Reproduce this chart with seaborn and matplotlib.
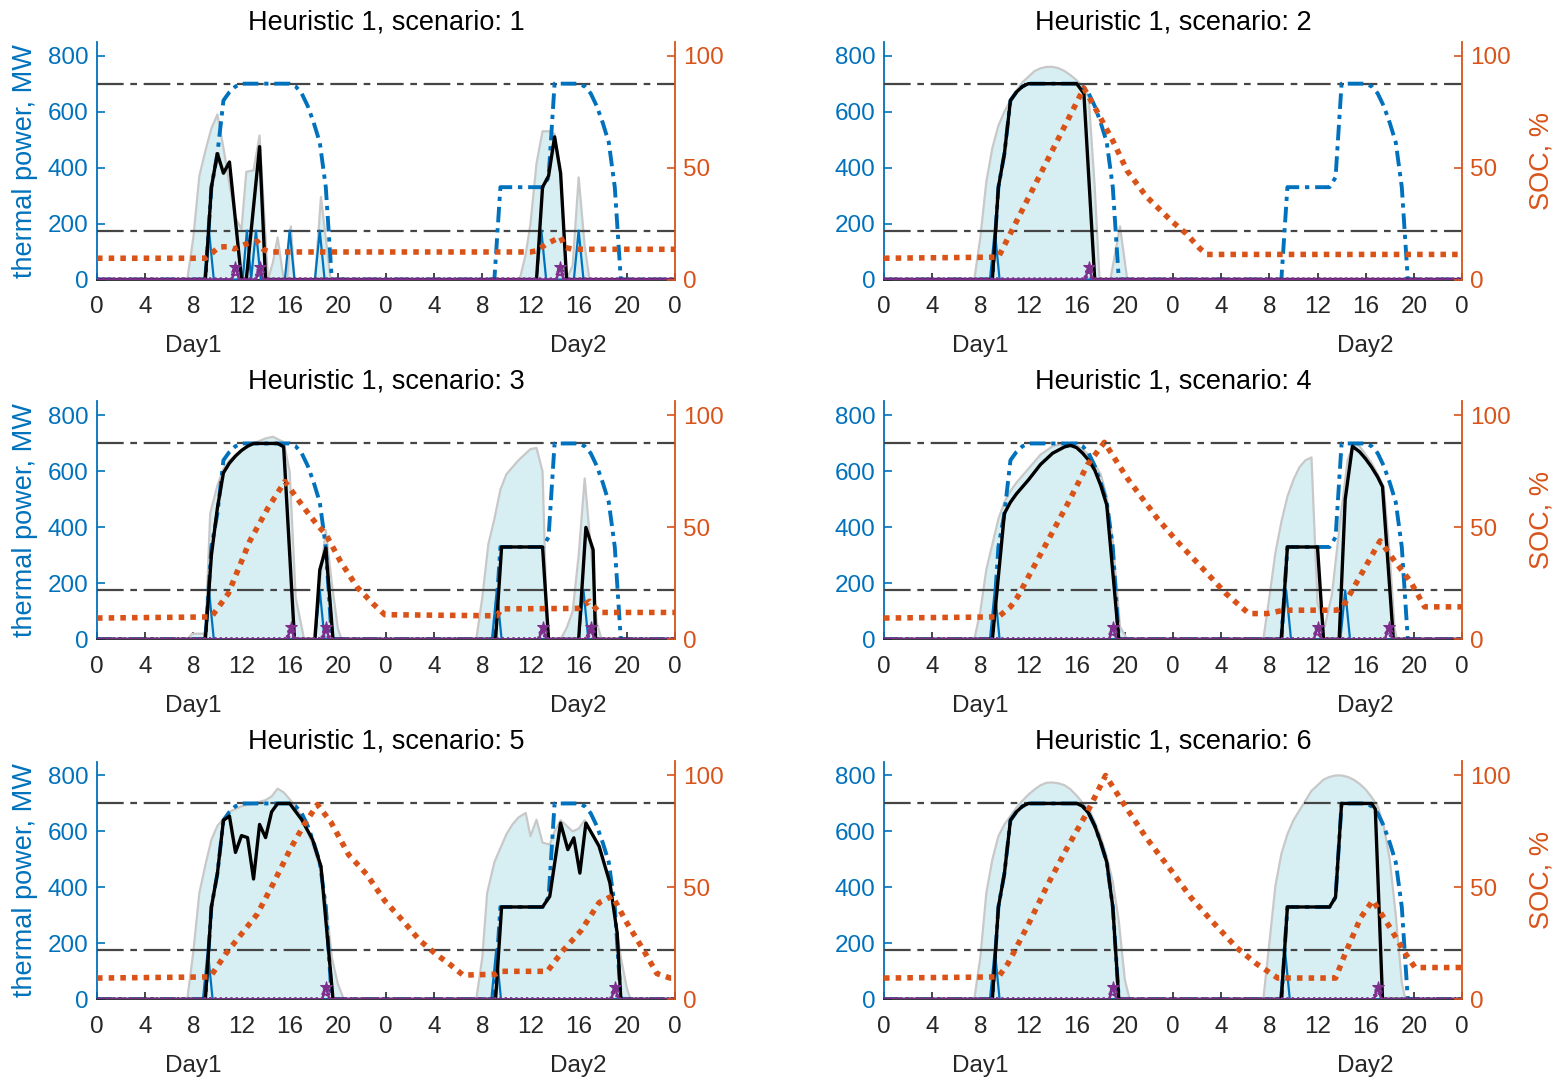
import matplotlib
matplotlib.use("Agg")
import matplotlib.pyplot as plt
import numpy as np
import seaborn as sns

# ----------------------------------------------------------------------------
# Colours / constants
# ----------------------------------------------------------------------------
BLUE = "#0072BD"
ORANGE = "#D95319"
PURPLE = "#7E2F8E"
FILL = "#d7eff2"
EDGE = "#c8c8c8"
REF = "#454545"
TXT = "#262626"

SCENARIOS = [1, 2, 3, 4, 5, 6]
HOUR_TICKS = [0, 4, 8, 12, 16, 20, 24, 28, 32, 36, 40, 44, 48]
HOUR_LABELS = ["0", "4", "8", "12", "16", "20", "0", "4", "8", "12", "16", "20", "0"]
DAY_LABELS = ["Day1", "Day2"]
DAY_POS = [8, 40]
P_MAX = 700
P_MIN = 175

# ----------------------------------------------------------------------------
# Data (hours, MW / %)
# ----------------------------------------------------------------------------
# thermal capacity envelope (same in every scenario)
DASH_T = [0, 9, 9.5, 10, 10.5, 11, 11.5, 12, 16, 16.5, 17, 17.5, 18, 18.5, 19, 19.5,
          33, 33.5, 37, 37.5, 38, 40, 40.5, 41, 41.5, 42, 42.5, 43, 43.5, 48]
DASH_V = [0, 0, 330, 450, 640, 670, 690, 700, 700, 690, 665, 620, 560, 490, 330, 0,
          0, 330, 330, 365, 700, 700, 690, 665, 620, 560, 490, 330, 0, 0]

# scenario 1
GRAY_T1 = [0, 7.5, 8, 8.5, 9, 9.5, 10, 10.5, 11, 11.5, 12, 12.4, 13, 13.5, 14.2, 14.6, 15, 15.5,
           15.8, 16.1, 16.4, 18.1, 18.6, 19.4, 35.1, 35.6, 36, 36.5, 37, 37.5, 38, 38.5, 39,
           39.5, 40, 40.5, 40.9, 48]
GRAY_V1 = [0, 0, 150, 370, 460, 540, 590, 470, 340, 220, 180, 385, 390, 515, 0, 60, 150, 0,
           0, 190, 0, 0, 295, 0, 0, 90, 200, 415, 530, 530, 520, 380, 0,
           50, 365, 120, 0, 0]
BLACK_T1 = [0, 9, 9.5, 10, 10.5, 11, 12, 12.4, 13, 13.5, 14, 36.5, 37, 37.5, 38, 38.5, 39, 48]
BLACK_V1 = [0, 0, 330, 450, 380, 420, 0, 0, 260, 475, 0, 0, 330, 370, 510, 380, 0, 0]
BLUE_T1 = [0, 8.9, 9.3, 9.7, 12.1, 12.45, 12.8, 13.2, 13.6, 15.6, 16, 16.4, 18.1, 18.5, 18.9,
           36.5, 36.9, 37.3, 39.6, 40, 40.4, 48]
BLUE_V1 = [0, 0, 175, 0, 0, 175, 0, 175, 0, 0, 175, 0, 0, 175, 0,
           0, 175, 0, 0, 175, 0, 0]
PURPLE_T1 = [0, 11.2, 11.5, 11.8, 13.2, 13.5, 13.8, 38.15, 38.45, 38.75, 48]
PURPLE_V1 = [0, 0, 45, 0, 0, 45, 0, 0, 45, 0, 0]
SOC_T1 = [0, 9, 9.6, 10.1, 10.9, 11.4, 12.4, 13.3, 13.85, 14.3, 36, 36.5, 37.3, 38.5, 38.9, 39.5, 48]
SOC_V1 = [9.5, 9.5, 12, 14.5, 14.7, 13.7, 15.9, 17.1, 13.3, 12.3, 12.3, 12.8, 15.8, 19, 14.3, 13.5, 13.5]

# scenario 2
GRAY_T2 = [0, 7.5, 8, 8.5, 9, 9.5, 10, 10.5, 11, 11.5, 12, 12.5, 13, 13.5, 14, 14.5, 15, 15.5,
           16, 16.5, 17, 17.5, 17.9, 18.8, 19.6, 20.2, 48]
GRAY_V2 = [0, 0, 150, 350, 470, 550, 600, 640, 675, 705, 725, 745, 755, 760, 760, 755, 745, 730,
           712, 690, 650, 330, 0, 0, 190, 0, 0]
BLACK_T2 = [0, 9, 9.5, 10, 10.5, 11, 11.5, 12, 16, 16.6, 17.5, 48]
BLACK_V2 = [0, 0, 330, 450, 640, 670, 690, 700, 700, 665, 0, 0]
BLUE_T2 = [0, 8.8, 9.2, 9.6, 48]
BLUE_V2 = [0, 0, 175, 0, 0]
PURPLE_T2 = [0, 16.7, 17, 17.3, 48]
PURPLE_V2 = [0, 0, 45, 0, 0]
SOC_T2 = [0, 9.5, 16.6, 17.7, 19, 20.2, 21.8, 23.9, 25.1, 26.2, 26.8, 48]
SOC_V2 = [9.5, 10, 85.5, 75, 62, 48.5, 37, 26, 20.5, 14, 11.2, 11.2]

# scenario 3
GRAY_T3 = [0, 7.5, 7.9, 9, 9.4, 10, 10.5, 11, 12, 13, 14, 14.6, 15.5, 16, 16.5, 17.2, 18, 18.5,
           19, 19.5, 20, 20.3, 31.5, 32, 32.5, 33, 33.5, 34, 34.5, 35, 35.5, 36, 36.5, 37, 37.4,
           38.5, 39, 39.5, 40, 40.5, 41, 41.5, 41.9, 48]
GRAY_V3 = [0, 0, 20, 20, 450, 550, 610, 640, 675, 700, 718, 724, 705, 600, 150, 0, 0, 200,
           390, 200, 40, 0, 0, 150, 340, 430, 535, 590, 615, 640, 660, 680, 684, 600, 0,
           0, 40, 100, 300, 575, 330, 60, 0, 0]
BLACK_T3 = [0, 9, 9.5, 10, 10.5, 11, 11.5, 12, 12.5, 13, 15, 15.5, 16.4, 18.1, 18.5, 19, 19.6,
            33.1, 33.6, 37, 37.5, 40, 40.6, 41.2, 41.4, 48]
BLACK_V3 = [0, 0, 300, 470, 595, 630, 655, 675, 690, 700, 700, 688, 0, 0, 248, 326, 0,
            0, 330, 330, 0, 0, 400, 320, 0, 0]
BLUE_T3 = [0, 8.9, 9.3, 9.7, 18.1, 18.5, 18.9, 32.8, 33.2, 33.6, 40, 40.4, 40.8, 48]
BLUE_V3 = [0, 0, 175, 0, 0, 175, 0, 0, 175, 0, 0, 175, 0, 0]
PURPLE_T3 = [0, 15.8, 16.1, 16.4, 18.7, 19, 19.3, 36.7, 37, 37.3, 40.7, 41, 41.3, 48]
PURPLE_V3 = [0, 0, 45, 0, 0, 45, 0, 0, 45, 0, 0, 45, 0, 0]
SOC_T3 = [0, 9.5, 10.9, 12.7, 14.2, 15.6, 17.2, 18.3, 19, 20.2, 21.6, 22.9, 23.9, 33.2, 33.6,
          40, 40.9, 41.7, 48]
SOC_V3 = [9.5, 10, 20.4, 44, 58.7, 70.5, 58.7, 51, 47, 35, 23.3, 16, 11, 10.5, 13.6,
          13.8, 17, 12, 12]

# scenario 4
GRAY_T4 = [0, 7.5, 8, 8.5, 9, 9.5, 10, 10.5, 11, 12, 13, 14, 15, 16, 17, 18, 18.5, 19, 19.6,
           20.2, 31.5, 32, 32.5, 33, 33.5, 34, 34.5, 35, 35.5, 36, 36.6, 37.2, 37.9, 38.5, 39,
           39.5, 40, 40.5, 41, 41.5, 42, 42.4, 42.6, 48]
GRAY_V4 = [0, 0, 100, 250, 340, 430, 490, 530, 560, 610, 660, 690, 700, 695, 660, 590, 510, 350, 45,
           0, 0, 150, 308, 420, 510, 570, 615, 640, 650, 130, 45, 160, 430, 640, 700,
           690, 660, 630, 590, 545, 300, 40, 0, 0]
BLACK_T4 = [0, 9, 10, 10.5, 11, 12, 13, 14, 15, 15.5, 16, 16.5, 17, 17.5, 18, 18.5, 19.5,
            33, 33.5, 36, 36.5, 37.8, 38.3, 38.9, 39.5, 40, 40.5, 41, 41.4, 42.3, 48]
BLACK_V4 = [0, 0, 450, 490, 520, 570, 625, 665, 688, 693, 685, 665, 640, 605, 550, 480, 0,
            0, 330, 330, 0, 0, 500, 690, 670, 645, 615, 580, 545, 0, 0]
BLUE_T4 = [0, 8.8, 9.2, 9.6, 33, 33.4, 33.8, 37.9, 38.3, 38.7, 48]
BLUE_V4 = [0, 0, 175, 0, 0, 175, 0, 0, 175, 0, 0]
PURPLE_T4 = [0, 18.7, 19, 19.3, 35.7, 36, 36.3, 41.6, 41.9, 42.2, 48]
PURPLE_V4 = [0, 0, 45, 0, 0, 45, 0, 0, 45, 0, 0]
SOC_T4 = [0, 9.5, 10.5, 11.1, 13.6, 15.2, 16.9, 18.3, 20.2, 22.7, 24.3, 26.4, 28.4, 30.3, 31.8,
          33.2, 37.6, 38.1, 41.2, 42.4, 43.7, 44.9, 48]
SOC_V4 = [9.5, 10, 14.5, 19, 44, 60, 78, 88, 72, 54, 44, 32, 20.4, 11.5, 11.5,
          13, 13, 14.5, 44, 35, 26, 14.5, 14.5]

# scenario 5
GRAY_T5 = [0, 7.5, 8, 8.5, 9, 9.5, 10, 10.5, 11, 11.5, 12, 13, 14, 14.5, 15, 15.5, 16, 16.5, 17,
           17.5, 18, 18.5, 19, 19.5, 20, 20.5, 31.5, 32, 32.4, 33, 33.5, 34, 34.5, 35, 35.6, 36,
           36.5, 37, 37.6, 38, 38.5, 39, 39.5, 40, 40.5, 41, 41.5, 42, 42.5, 43, 43.5, 44, 44.3, 48]
GRAY_V5 = [0, 0, 170, 380, 480, 570, 620, 645, 670, 680, 690, 700, 712, 725, 753, 740, 715, 690, 650,
           600, 540, 470, 350, 150, 55, 0, 0, 150, 380, 490, 540, 590, 625, 650, 666, 583,
           642, 560, 553, 600, 640, 620, 600, 610, 640, 600, 560, 500, 430, 300, 150, 40, 0, 0]
BLACK_T5 = [0, 9, 9.5, 10, 10.5, 11, 11.5, 12, 12.5, 13, 13.5, 14, 14.5, 15, 16, 17, 17.9, 18.6,
            19, 19.6, 33.1, 33.6, 37, 37.6, 38.5, 39.1, 39.6, 40.1, 40.6, 41.7, 42.6, 43.2, 43.5, 48]
BLACK_V5 = [0, 0, 330, 450, 640, 655, 525, 585, 578, 430, 625, 578, 670, 700, 700, 642, 571, 475,
            284, 0, 0, 330, 330, 368, 630, 535, 577, 451, 630, 547, 415, 236, 0, 0]
BLUE_T5 = [0, 8.8, 9.2, 9.6, 32.75, 33.15, 33.55, 48]
BLUE_V5 = [0, 0, 175, 0, 0, 175, 0, 0]
PURPLE_T5 = [0, 18.7, 19, 19.3, 42.7, 43, 43.3, 48]
PURPLE_V5 = [0, 0, 45, 0, 0, 45, 0, 0]
SOC_T5 = [0, 9.4, 10.7, 12, 13.3, 14.6, 16.1, 17.2, 18.3, 19.4, 20.9, 22.4, 23.9, 25.4, 26.8,
          28.1, 29.4, 30.4, 33.1, 33.5, 37.4, 38.7, 40.2, 41.7, 42.8, 43.9, 45.4, 46.5, 47.6, 48]
SOC_V5 = [9.5, 10, 20.4, 29.2, 38, 51.3, 67.6, 78, 87, 79.4, 64.6, 55.8, 44, 35.1, 26.3,
          20.4, 15.2, 10.8, 11.2, 12.5, 12.5, 21.8, 30.7, 43.2, 46.2, 35.1, 21.8, 11.5, 9.5, 9.5]

# scenario 6
GRAY_T6 = [0, 7.5, 8, 8.5, 9, 9.5, 10, 10.5, 11, 11.5, 12, 12.5, 13, 13.5, 14, 14.5, 15, 15.5, 16,
           16.5, 17, 17.5, 18, 18.5, 19, 19.5, 20, 20.4, 31.5, 32, 32.5, 33, 33.5, 34, 34.5, 35,
           35.5, 36, 36.5, 37, 37.5, 38, 38.5, 39, 39.5, 40, 40.5, 41, 41.5, 42, 42.5, 43, 43.3, 48]
GRAY_V6 = [0, 0, 150, 380, 500, 583, 625, 655, 685, 710, 732, 750, 765, 774, 775, 772, 765, 750, 728,
           702, 680, 635, 580, 510, 420, 280, 70, 0, 0, 200, 404, 520, 590, 640, 675, 710,
           745, 765, 785, 795, 800, 800, 795, 785, 770, 750, 722, 690, 620, 500, 300, 60, 0, 0]
BLACK_T6 = [0, 9, 9.5, 10, 10.5, 11, 11.5, 12, 16, 16.5, 17, 17.5, 18, 18.5, 19, 19.5,
            33, 33.5, 37, 37.5, 38, 40.5, 40.8, 41.4, 48]
BLACK_V6 = [0, 0, 330, 450, 640, 670, 690, 700, 700, 690, 665, 620, 560, 490, 330, 0,
            0, 330, 330, 365, 700, 700, 680, 0, 0]
BLUE_T6 = [0, 8.8, 9.2, 9.6, 32.9, 33.3, 33.7, 48]
BLUE_V6 = [0, 0, 175, 0, 0, 175, 0, 0]
PURPLE_T6 = [0, 18.7, 19, 19.3, 40.7, 41, 41.3, 48]
PURPLE_V6 = [0, 0, 45, 0, 0, 45, 0, 0]
SOC_T6 = [0, 9.5, 10.3, 12, 13.6, 15.2, 16.9, 18.4, 19.8, 21.8, 23.9, 25.5, 27.2, 29.3, 30.9,
          32.7, 37.5, 38.3, 39.6, 40.6, 42, 43.3, 44.1, 48]
SOC_V6 = [9.5, 10, 16, 33.6, 51.3, 67.6, 83.8, 100, 88.2, 72, 57.2, 45.4, 35.1, 23, 16,
          9.5, 9.5, 20.4, 36.6, 44.2, 32.2, 20.4, 14.2, 14.2]

PANELS = [
    (GRAY_T1, GRAY_V1, BLACK_T1, BLACK_V1, BLUE_T1, BLUE_V1, PURPLE_T1, PURPLE_V1, SOC_T1, SOC_V1),
    (GRAY_T2, GRAY_V2, BLACK_T2, BLACK_V2, BLUE_T2, BLUE_V2, PURPLE_T2, PURPLE_V2, SOC_T2, SOC_V2),
    (GRAY_T3, GRAY_V3, BLACK_T3, BLACK_V3, BLUE_T3, BLUE_V3, PURPLE_T3, PURPLE_V3, SOC_T3, SOC_V3),
    (GRAY_T4, GRAY_V4, BLACK_T4, BLACK_V4, BLUE_T4, BLUE_V4, PURPLE_T4, PURPLE_V4, SOC_T4, SOC_V4),
    (GRAY_T5, GRAY_V5, BLACK_T5, BLACK_V5, BLUE_T5, BLUE_V5, PURPLE_T5, PURPLE_V5, SOC_T5, SOC_V5),
    (GRAY_T6, GRAY_V6, BLACK_T6, BLACK_V6, BLUE_T6, BLUE_V6, PURPLE_T6, PURPLE_V6, SOC_T6, SOC_V6),
]

# ----------------------------------------------------------------------------
# Layout
# ----------------------------------------------------------------------------
W, H = 1558, 1082
COL_X = [97, 884]                 # left edge of each column, px
ROW_BASE = [279.5, 639.3, 999.3]  # y of the zero line, px
AX_W, AX_H = 578, 237.8

sns.set_theme(style="white")
plt.rcParams["font.family"] = ["Liberation Sans", "DejaVu Sans"]

FS_TICK = 17.5
FS_LABEL = 19.5
FS_TITLE = 19.5


def line(ax, t, v, **kw):
    sns.lineplot(x=t, y=v, ax=ax, estimator=None, sort=False, legend=False, **kw)


fig = plt.figure(figsize=(W / 100, H / 100), dpi=100)

for idx, (scen, data) in enumerate(zip(SCENARIOS, PANELS)):
    gt, gv, bt, bv, tt, tv, pt, pv, st, sv = data
    row, col = divmod(idx, 2)
    rect = [COL_X[col] / W, 1 - ROW_BASE[row] / H, AX_W / W, AX_H / H]
    ax = fig.add_axes(rect)

    # renewable area
    ax.fill_between(gt, gv, 0, color=FILL, linewidth=0, zorder=1)
    line(ax, gt, gv, color=EDGE, linewidth=1.6, zorder=2)

    # thermal limits
    for lim in (P_MAX, P_MIN):
        ax.axhline(lim, color=REF, linewidth=1.6, linestyle=(0, (12, 3, 3, 3)), zorder=3)

    line(ax, DASH_T, DASH_V, color=BLUE, linewidth=2.8,
         linestyle=(0, (4, 1.5, 1.1, 1.5)), zorder=4)
    line(ax, tt, tv, color=BLUE, linewidth=1.6, zorder=5)
    line(ax, bt, bv, color="black", linewidth=2.4, zorder=6)
    line(ax, pt, pv, color=PURPLE, linewidth=1.8, zorder=7)
    line(ax, pt, pv, color=PURPLE, linewidth=3.2, linestyle=(0, (0.5, 0.7)), zorder=7)
    peaks_t = [t for t, v in zip(pt, pv) if v > 0]
    peaks_v = [v for v in pv if v > 0]
    line(ax, peaks_t, peaks_v, color=PURPLE, linewidth=0, marker="*",
         markersize=9, markeredgecolor=PURPLE, zorder=8)

    ax.set_xlim(0, 48)
    ax.set_ylim(0, 850)
    ax.set_xticks(HOUR_TICKS, HOUR_LABELS)
    ax.set_yticks([0, 200, 400, 600, 800])
    ax.set_xlabel("")
    ax.set_ylabel("")

    # SOC on the right axis
    ax2 = ax.twinx()
    line(ax2, st, sv, color=ORANGE, linewidth=4.0, linestyle=(0, (1.0, 1.1)), zorder=9)
    ax2.set_ylim(0, 106.25)
    ax2.set_yticks([0, 50, 100])
    ax2.set_ylabel("")

    # axis styling (MATLAB yyaxis look)
    for a in (ax, ax2):
        a.spines["top"].set_visible(False)
        a.grid(False)
    ax.spines["right"].set_visible(False)
    ax2.spines["left"].set_visible(False)
    ax2.spines["bottom"].set_visible(False)
    ax.spines["left"].set_color(BLUE)
    ax.spines["bottom"].set_color(TXT)
    ax2.spines["right"].set_color(ORANGE)
    for sp in ("left", "bottom"):
        ax.spines[sp].set_linewidth(1.3)
    ax2.spines["right"].set_linewidth(1.3)

    ax.tick_params(axis="x", direction="in", length=5, width=1.2, colors=TXT,
                   labelsize=FS_TICK, pad=12, bottom=True)
    ax.tick_params(axis="y", direction="in", length=6, width=1.2, colors=BLUE,
                   labelsize=FS_TICK, pad=6, left=True)
    ax2.tick_params(axis="y", direction="in", length=6, width=1.2, colors=ORANGE,
                    labelsize=FS_TICK, pad=6, right=True)

    for name, pos in zip(DAY_LABELS, DAY_POS):
        ax.text(pos, -0.28, name, transform=ax.get_xaxis_transform(),
                ha="center", va="center", fontsize=FS_TICK, color=TXT)

    ax.set_title(f"Heuristic 1, scenario: {scen}", fontsize=FS_TITLE,
                 color="black", pad=9)

    if col == 0:
        ax.set_ylabel("thermal power, MW", fontsize=FS_LABEL, color=BLUE)
        ax.yaxis.set_label_coords(-0.102, 0.5)
    else:
        ax2.set_ylabel("SOC, %", fontsize=FS_LABEL, color=ORANGE)
        ax2.yaxis.set_label_coords(1.115, 0.5)

fig.savefig("out.png", dpi=100)
